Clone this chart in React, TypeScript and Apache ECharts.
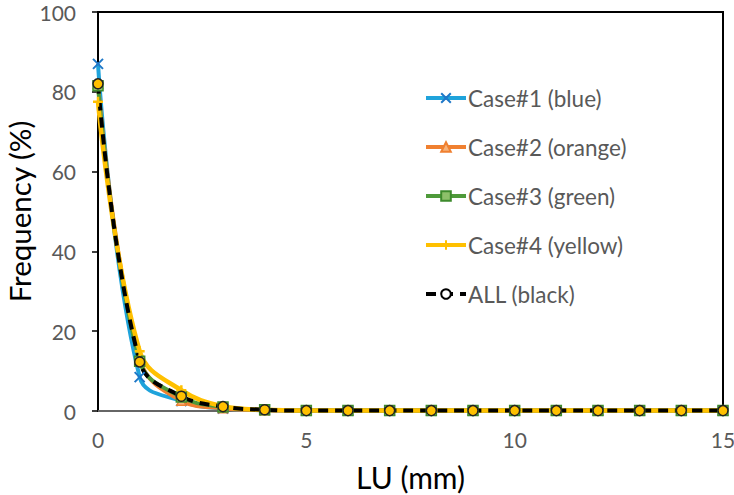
import React, { useEffect, useRef } from "react";
import * as echarts from "echarts";

const xs = [0, 1, 2, 3, 4, 5, 6, 7, 8, 9, 10, 11, 12, 13, 14, 15];
const case1 = [87, 8.5, 2.5, 0.6, 0.2, 0.1, 0.1, 0.1, 0.1, 0.1, 0.1, 0.1, 0.1, 0.1, 0.1, 0.1];
const case2 = [82, 13, 2.6, 0.7, 0.2, 0.1, 0.1, 0.1, 0.1, 0.1, 0.1, 0.1, 0.1, 0.1, 0.1, 0.1];
const case3 = [81.5, 12.5, 3.5, 1.0, 0.3, 0.1, 0.1, 0.1, 0.1, 0.1, 0.1, 0.1, 0.1, 0.1, 0.1, 0.1];
const case4 = [77.5, 15, 5.2, 1.2, 0.3, 0.1, 0.1, 0.1, 0.1, 0.1, 0.1, 0.1, 0.1, 0.1, 0.1, 0.1];
const all = [82, 12.3, 3.7, 1.1, 0.3, 0.1, 0.1, 0.1, 0.1, 0.1, 0.1, 0.1, 0.1, 0.1, 0.1, 0.1];
const names = ["Case#1 (blue)", "Case#2 (orange)", "Case#3 (green)", "Case#4 (yellow)", "ALL (black)"];

const pair = (ys: number[]) => xs.map((x, i) => [x, ys[i]]);

const FONT = "Lato";

export default function App() {
  const ref = useRef<HTMLDivElement>(null);
  useEffect(() => {
    const chart = echarts.init(ref.current!, null, { renderer: "svg" });
    const crossPath = "path://M0,0L10,10M10,0L0,10";
    const plusPath = "path://M0,5L10,5M5,0L5,10";
    chart.setOption({
      animation: false,
      grid: {
        left: 98,
        right: 11,
        top: 12,
        bottom: 84,
        outerBoundsMode: "none",
        containLabel: false,
        show: true,
        borderColor: "#000",
        borderWidth: 2,
        backgroundColor: "transparent",
      },
      legend: {
        orient: "vertical",
        left: 419,
        top: 81,
        itemWidth: 40,
        itemHeight: 12,
        itemGap: 25,
        lineStyle: { width: 4 },
        textStyle: {
          fontFamily: FONT,
          fontSize: 22.5,
          lineHeight: 24,
          color: "#595959",
          padding: [0, 0, 0, -3],
        },
        data: [
          { name: names[0] },
          { name: names[1] },
          { name: names[2] },
          { name: names[3] },
          { name: names[4], itemStyle: { color: "#fff", borderColor: "#000", borderWidth: 2 } },
        ],
      },
      xAxis: {
        type: "value",
        min: 0,
        max: 15,
        interval: 5,
        name: "LU (mm)",
        nameLocation: "middle",
        nameGap: 51,
        nameMoveOverlap: false,
        nameTextStyle: { fontFamily: FONT, fontSize: 30, color: "#000" },
        axisLine: { show: true, onZero: false, lineStyle: { color: "#888", width: 1.5 } },
        axisTick: { show: false },
        splitLine: { show: false },
        axisLabel: { fontFamily: FONT, fontSize: 21, lineHeight: 20, color: "#595959", margin: 18 },
      },
      yAxis: {
        type: "value",
        min: 0,
        max: 100,
        interval: 20,
        name: "Frequency (%)",
        nameLocation: "middle",
        nameGap: 64,
        nameMoveOverlap: false,
        nameTextStyle: { fontFamily: FONT, fontSize: 29.5, lineHeight: 30, color: "#000" },
        axisLine: { show: true, lineStyle: { color: "#000", width: 2 } },
        axisTick: { show: true, length: 6, lineStyle: { color: "#000", width: 1.5 } },
        splitLine: { show: false },
        axisLabel: { fontFamily: FONT, fontSize: 21, lineHeight: 20, color: "#595959", margin: 22 },
      },
      series: [
        {
          name: names[0],
          type: "line",
          smooth: 0.4,
          data: pair(case1),
          color: "#1FA3DB",
          symbol: crossPath,
          symbolSize: 10,
          lineStyle: { color: "#1FA3DB", width: 4 },
          itemStyle: { color: "#1FA3DB", borderColor: "#1F78C8", borderWidth: 2 },
        },
        {
          name: names[1],
          type: "line",
          smooth: 0.4,
          data: pair(case2),
          color: "#F08030",
          symbol: "triangle",
          symbolSize: 9,
          lineStyle: { color: "#F08030", width: 4 },
          itemStyle: { color: "#F6B27A", borderColor: "#F08030", borderWidth: 1.5 },
        },
        {
          name: names[2],
          type: "line",
          smooth: 0.4,
          data: pair(case3),
          color: "#4E9A3A",
          symbol: "rect",
          symbolSize: 10,
          lineStyle: { color: "#4E9A3A", width: 4 },
          itemStyle: { color: "#8DC06A", borderColor: "#3D8A2C", borderWidth: 1.5 },
        },
        {
          name: names[3],
          type: "line",
          smooth: 0.4,
          data: pair(case4),
          color: "#FFC000",
          symbol: plusPath,
          symbolSize: 10,
          lineStyle: { color: "#FFC000", width: 4.5 },
          itemStyle: { color: "#FFC000", borderColor: "#FFC000", borderWidth: 2.5 },
        },
        {
          name: names[4],
          type: "line",
          smooth: 0.4,
          data: pair(all),
          color: "#000",
          symbol: "circle",
          symbolSize: 10,
          lineStyle: { color: "#000", width: 4, type: [10, 7] },
          itemStyle: { color: "#FFC000", borderColor: "#222", borderWidth: 1.5 },
        },
      ],
    });
    return () => chart.dispose();
  }, []);
  return <div ref={ref} style={{ width: 734, height: 495, position: "absolute", left: 0, top: 0 }} />;
}
